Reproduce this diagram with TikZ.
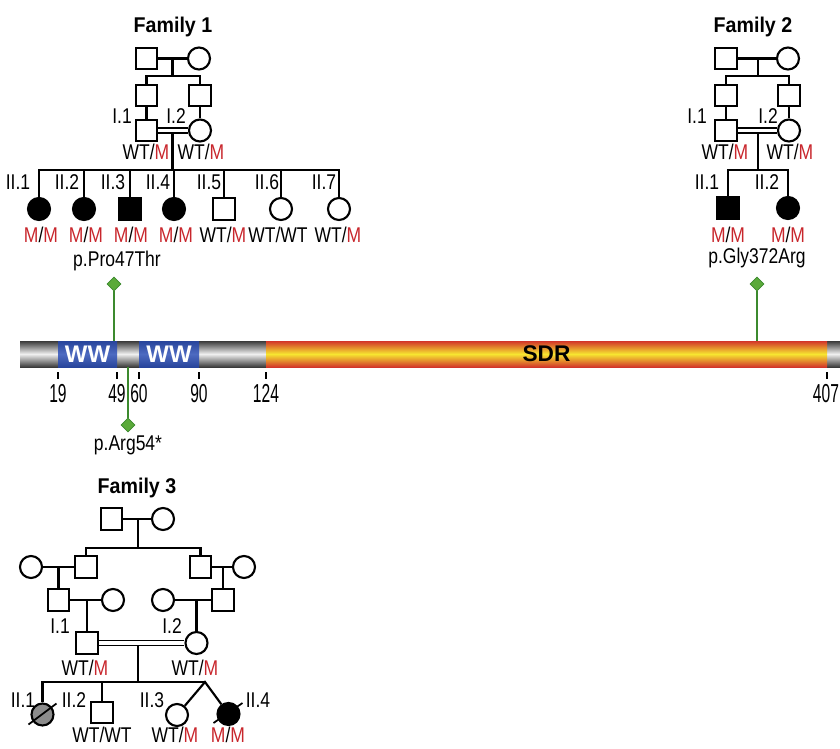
\documentclass[tikz,border=0pt]{standalone}
\usepackage{fontspec}
\setmainfont{Liberation Sans}[FakeStretch=0.82]
\newfontfamily\ttlfont{Liberation Sans}[FakeStretch=0.92]
\newfontfamily\numfont{Liberation Sans}[FakeStretch=0.6]
\newfontfamily\barfont{Liberation Sans}
\usepackage{xcolor}
\usepackage{tikz}
\usetikzlibrary{shapes,calc}
\usetikzlibrary{positioning}

\definecolor{mutred}{HTML}{C8262C}
\definecolor{mkgreen}{HTML}{3C8A2E}
\definecolor{mkfill}{HTML}{5BAA3A}
\definecolor{wwblue}{HTML}{2E50B6}
\definecolor{sdrred}{HTML}{D2352A}
\definecolor{sdryel}{HTML}{F7E630}
\definecolor{barDark}{HTML}{3A3A3A}
\newcommand{\mutM}{\textcolor{mutred}{M}}

\begin{document}
\begin{tikzpicture}[x=0.75pt,y=0.75pt,yscale=-1,xscale=1,
  mal/.style={draw, rectangle, minimum size=16pt, inner sep=0pt, line width=1.6pt},
  fem/.style={draw, circle, minimum size=16.5pt, inner sep=0pt, line width=1.6pt},
  aff/.style={fill=black},
  ped/.style={line width=1.6pt},
  cons/.style={double, double distance=2.6pt, line width=1.3pt},
  lbl/.style={anchor=base, inner sep=0pt, font=\fontsize{16}{18}\selectfont},
  ttl/.style={anchor=base, inner sep=0pt, font=\ttlfont\bfseries\fontsize{16}{18}\selectfont},
  num/.style={anchor=base, inner sep=0pt, font=\numfont\fontsize{19.5}{20}\selectfont},
  mk/.style={diamond, draw=mkgreen, fill=mkfill, minimum width=10.5pt, minimum height=10.5pt, inner sep=0pt, line width=0.6pt},
  stem/.style={draw=mkgreen, line width=1.2pt},
  tick/.style={line width=1.2pt}]
  \useasboundingbox (0,0) rectangle (840,749);

  %Family 1 --------------------------------------------------
  \node[ttl] (f1t) at (173,33) {Family 1};
  \node[mal] (f1a) at (146.5,58.5) {};
  \node[fem] (f1b) at (199,58.5) {};
  \coordinate (f1m) at (172.5,58.5);
  \coordinate (f1s) at (172.5,76);
  \draw[ped] (f1a) -- (f1b);
  \node[mal] (f1c) at (146.5,95.5) {};
  \node[mal] (f1d) at (200,95.5) {};
  \draw[ped] (f1m) -- (f1s) (f1c.north) |- (f1s) -| (f1d.north);
  \node[mal] (f1p) at (146.5,130.5) {};
  \node[fem] (f1q) at (200,130.5) {};
  \draw[ped] (f1c) -- (f1p) (f1d) -- (f1q);
  \draw[cons] (f1p) -- (f1q);
  \coordinate (f1j) at (172.5,133);
  \coordinate (f1k) at (172.5,170);
  \draw[ped] (f1j) -- (f1k);
  % children
  \node[fem,aff] (f1c1) at (39,209) {};
  \node[fem,aff] (f1c2) at (84,209) {};
  \node[mal,aff] (f1c3) at (130,209) {};
  \node[fem,aff] (f1c4) at (174,209) {};
  \node[mal] (f1c5) at (224,209) {};
  \node[fem] (f1c6) at (281,209) {};
  \node[fem] (f1c7) at (339,209) {};
  \draw[ped] (f1c1.north) |- (f1k) -| (f1c7.north);
  \draw[ped] (f1c2.north) -- (f1c2.north |- f1k);
  \draw[ped] (f1c3.north) -- (f1c3.north |- f1k);
  \draw[ped] (f1c4.north) -- (f1c4.north |- f1k);
  \draw[ped] (f1c5.north) -- (f1c5.north |- f1k);
  \draw[ped] (f1c6.north) -- (f1c6.north |- f1k);

  % Text Node
  \node[lbl] (f1n1) at (122,124) {I.1};
  \node[lbl] (f1n2) at (176,124) {I.2};
  \node[lbl] (f1g1) at (146,160) {WT/\mutM};
  \node[lbl] (f1g2) at (201,160) {WT/\mutM};
  \node[lbl] (f1l1) at (18,190) {II.1};
  \node[lbl] (f1l2) at (67,190) {II.2};
  \node[lbl] (f1l3) at (113,190) {II.3};
  \node[lbl] (f1l4) at (158,190) {II.4};
  \node[lbl] (f1l5) at (209,190) {II.5};
  \node[lbl] (f1l6) at (267,190) {II.6};
  \node[lbl] (f1l7) at (324,190) {II.7};
  \node[lbl] (f1h1) at (41,242) {\mutM/\mutM};
  \node[lbl] (f1h2) at (86,242) {\mutM/\mutM};
  \node[lbl] (f1h3) at (131,242) {\mutM/\mutM};
  \node[lbl] (f1h4) at (176,242) {\mutM/\mutM};
  \node[lbl] (f1h5) at (223,242) {WT/\mutM};
  \node[lbl] (f1h6) at (278,242) {WT/WT};
  \node[lbl] (f1h7) at (338,242) {WT/\mutM};

  %Family 2 --------------------------------------------------
  \node[ttl] (f2t) at (753,33) {Family 2};
  \node[mal] (f2a) at (726,58.5) {};
  \node[fem] (f2b) at (788,58.5) {};
  \coordinate (f2m) at (758,58.5);
  \coordinate (f2s) at (758,76);
  \draw[ped] (f2a) -- (f2b);
  \node[mal] (f2c) at (726,95.5) {};
  \node[mal] (f2d) at (789,95.5) {};
  \draw[ped] (f2m) -- (f2s) (f2c.north) |- (f2s) -| (f2d.north);
  \node[mal] (f2p) at (726,130.5) {};
  \node[fem] (f2q) at (789,130.5) {};
  \draw[ped] (f2c) -- (f2p) (f2d) -- (f2q);
  \draw[cons] (f2p) -- (f2q);
  \coordinate (f2j) at (758,133);
  \coordinate (f2k) at (758,170);
  \draw[ped] (f2j) -- (f2k);
  \node[mal,aff] (f2c1) at (728,208) {};
  \node[fem,aff] (f2c2) at (788,208) {};
  \draw[ped] (f2c1.north) |- (f2k) -| (f2c2.north);

  % Text Node
  \node[lbl] (f2n1) at (697,124) {I.1};
  \node[lbl] (f2n2) at (768,124) {I.2};
  \node[lbl] (f2g1) at (725,160) {WT/\mutM};
  \node[lbl] (f2g2) at (790,160) {WT/\mutM};
  \node[lbl] (f2l1) at (707,190) {II.1};
  \node[lbl] (f2l2) at (767,190) {II.2};
  \node[lbl] (f2h1) at (728,242) {\mutM/\mutM};
  \node[lbl] (f2h2) at (788,242) {\mutM/\mutM};

  %Protein bar -----------------------------------------------
  \shade[top color=barDark, bottom color=barDark, middle color=white!94!black] (20,341) rectangle (840,367);
  \shade[top color=sdrred, bottom color=sdrred, middle color=sdryel] (266,341) rectangle (827,367);
  \shade[top color=wwblue!85!black, bottom color=wwblue!85!black, middle color=wwblue!85!white] (58,341) rectangle (117,367);
  \shade[top color=wwblue!85!black, bottom color=wwblue!85!black, middle color=wwblue!85!white] (139,341) rectangle (199,367);
  \node[inner sep=0pt, text=white, font=\barfont\bfseries\fontsize{18}{18}\selectfont] (ww1) at (87.5,354) {WW};
  \node[inner sep=0pt, text=white, font=\barfont\bfseries\fontsize{18}{18}\selectfont] (ww2) at (169,354) {WW};
  \node[inner sep=0pt, font=\barfont\bfseries\fontsize{17}{18}\selectfont] (sdr) at (546.5,354) {SDR};

  % ticks
  \draw[tick] (58,372) -- (58,379);
  \draw[tick] (117,372) -- (117,379);
  \draw[tick] (139,372) -- (139,379);
  \draw[tick] (199,372) -- (199,379);
  \draw[tick] (266,372) -- (266,379);
  \draw[tick] (827,372) -- (827,379);
  \node[num] (r19) at (58,402) {19};
  \node[num] (r49) at (117,402) {49};
  \node[num] (r60) at (139,402) {60};
  \node[num] (r90) at (199,402) {90};
  \node[num] (r124) at (266,402) {124};
  \node[num] (r407) at (826,402) {407};

  % variants
  \node[mk] (d47) at (114,284) {};
  \coordinate (b47) at (114,341);
  \draw[stem] (d47) -- (b47);
  \node[mk] (d372) at (757,284) {};
  \coordinate (b372) at (757,341);
  \draw[stem] (d372) -- (b372);
  \node[mk] (d54) at (128,425) {};
  \coordinate (b54) at (128,367);
  \draw[stem] (b54) -- (d54);
  \node[lbl] (v47) at (117,267) {p.Pro47Thr};
  \node[lbl] (v372) at (757,263) {p.Gly372Arg};
  \node[lbl] (v54) at (128,450) {p.Arg54*};

  %Family 3 --------------------------------------------------
  \node[ttl] (f3t) at (137,493) {Family 3};
  \node[mal] (f3a) at (111.5,519) {};
  \node[fem] (f3b) at (163,519) {};
  \coordinate (f3m) at (138,519);
  \coordinate (f3s) at (138,548);
  \draw[ped] (f3a) -- (f3b);
  \node[mal] (f3c) at (86,567) {};
  \node[mal] (f3d) at (200.5,567) {};
  \draw[ped] (f3m) -- (f3s) (f3c.north) |- (f3s) -| (f3d.north);
  \node[fem] (f3e) at (31,567) {};
  \node[fem] (f3f) at (244,567) {};
  \draw[ped] (f3e) -- (f3c) (f3d) -- (f3f);
  \coordinate (f3m2) at (58.5,567);
  \coordinate (f3m4) at (223,567);
  \node[mal] (f3g) at (58.5,600) {};
  \node[fem] (f3h) at (113,600) {};
  \node[fem] (f3i) at (163,600) {};
  \node[mal] (f3j) at (223,600) {};
  \draw[ped] (f3m2) -- (f3g) (f3m4) -- (f3j);
  \draw[ped] (f3g) -- (f3h) (f3i) -- (f3j);
  \coordinate (f3m3) at (87,600);
  \coordinate (f3m5) at (196.5,600);
  \node[mal] (f3p) at (87,643) {};
  \node[fem] (f3q) at (196.5,643) {};
  \draw[ped] (f3m3) -- (f3p) (f3m5) -- (f3q);
  \draw[cons] (f3p) -- (f3q);
  \coordinate (f3jj) at (138,645.5);
  \coordinate (f3k) at (138,682);
  \coordinate (f3tw) at (205,682);
  \draw[ped] (f3jj) -- (f3k);
  % children
  \node[fem, fill=black!45] (f3c1) at (42.5,714.5) {};
  \node[mal] (f3c2) at (102,712.5) {};
  \node[fem] (f3c3) at (177,715) {};
  \node[fem,aff] (f3c4) at (228.5,714) {};
  \draw[ped] (f3c1.north) |- (f3tw);
  \draw[ped] (f3c2.north) -- (f3c2.north |- f3k);
  \draw[ped] (f3c3) -- (f3tw) -- (f3c4);
  % deceased
  \draw[line width=1.3pt] ($(f3c1)+(-14,10)$) -- ($(f3c1)+(14,-11)$);
  \draw[line width=1.3pt] ($(f3c4)+(-15,9)$) -- ($(f3c4)+(14,-11)$);

  % Text Node
  \node[lbl] (f3n1) at (60,633) {I.1};
  \node[lbl] (f3n2) at (172,633) {I.2};
  \node[lbl] (f3g1) at (85,675) {WT/\mutM};
  \node[lbl] (f3g2) at (195,675) {WT/\mutM};
  \node[lbl] (f3l1) at (23,707) {II.1};
  \node[lbl] (f3l2) at (74,707) {II.2};
  \node[lbl] (f3l3) at (152,707) {II.3};
  \node[lbl] (f3l4) at (258,707) {II.4};
  \node[lbl] (f3h2) at (102,742) {WT/WT};
  \node[lbl] (f3h3) at (175,742) {WT/\mutM};
  \node[lbl] (f3h4) at (228,742) {\mutM/\mutM};

\end{tikzpicture}
\end{document}
